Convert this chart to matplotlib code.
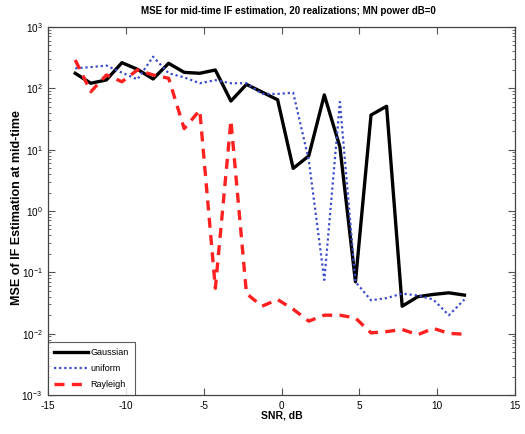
import numpy as np
import matplotlib
matplotlib.use("Agg")
import matplotlib.pyplot as plt
from matplotlib.ticker import FixedLocator, NullFormatter, LogFormatterSciNotation

plt.rcParams['font.family'] = ['Liberation Sans Narrow', 'Liberation Sans', 'DejaVu Sans']
plt.rcParams['axes.unicode_minus'] = False

snr = [-13.25, -12.25, -11.25, -10.25, -9.25, -8.25, -7.25, -6.25, -5.25, -4.25,
       -3.25, -2.25, -1.25, -0.25, 0.75, 1.75, 2.75, 3.75, 4.75, 5.75,
       6.75, 7.75, 8.75, 9.75, 10.75, 11.75]

gaussian = [176, 121, 137, 262, 204, 142, 256, 182, 176, 199,
            62, 116, 87, 65, 4.95, 7.9, 78, 11.1, 0.070, 36.7,
            51, 0.028, 0.040, 0.0436, 0.0463, 0.0425]

uniform = [212, 222, 235, 180, 140, 328, 176, 151, 121, 136,
           121, 121, 81, 81, 85, 6.8, 0.075, 60, 0.070, 0.035,
           0.038, 0.045, 0.042, 0.036, 0.020, 0.036]

rayleigh = [290, 88, 165, 128, 200, 165, 146, 22, 44, 0.055,
            30, 0.045, 0.028, 0.036, 0.025, 0.016, 0.020, 0.020, 0.018, 0.0103,
            0.0108, 0.0117, 0.0096, 0.0122, 0.0101, 0.0098]

title = "MSE for mid-time IF estimation, 20 realizations; MN power dB=0"
xlabel = "SNR, dB"
ylabel = "MSE of IF Estimation at mid-time"
labels = ["Gaussian", "uniform", "Rayleigh"]
xticks = [-15, -10, -5, 0, 5, 10, 15]
yticks = [1e-3, 1e-2, 1e-1, 1e0, 1e1, 1e2, 1e3]

fig = plt.figure(figsize=(5.25, 4.34), dpi=100)
ax = fig.add_axes([0.0914, 0.0899, 0.8896, 0.8479])

ax.plot(snr, gaussian, color='black', lw=2.4, ls='-', label=labels[0])
ax.plot(snr, uniform, color='#3a4ccc', lw=1.6, ls=(0, (1, 1.3)), label=labels[1])
ax.plot(snr, rayleigh, color='#ff2020', lw=2.4, ls=(0, (3, 2.2)), label=labels[2])

ax.set_yscale('log')
ax.set_ylim(1e-3, 1e3)
ax.set_xlim(-15, 15)
ax.xaxis.set_major_locator(FixedLocator(xticks))
ax.yaxis.set_major_locator(FixedLocator(yticks))
ax.yaxis.set_major_formatter(LogFormatterSciNotation())
minor = [m * d for d in yticks[:-1] for m in range(2, 10)]
ax.yaxis.set_minor_locator(FixedLocator(minor))
ax.yaxis.set_minor_formatter(NullFormatter())
ax.tick_params(which='both', direction='in', top=True, right=True, labelsize=7.2, color='#555555')
ax.tick_params(which='major', length=5, width=0.8)
ax.tick_params(which='minor', length=2.5, width=0.6)
ax.tick_params(axis='x', pad=4)
ax.tick_params(axis='y', pad=4)
for s in ax.spines.values():
    s.set_color('#444444')
    s.set_linewidth(0.9)

ax.set_title(title, fontsize=7.0, fontweight='bold', pad=9, x=0.515)
ax.set_xlabel(xlabel, fontsize=7.5, fontweight='bold', labelpad=0)
ax.set_ylabel(ylabel, fontsize=9.0, fontweight='bold')
ax.yaxis.set_label_coords(-0.053, 0.51)

leg = ax.legend(loc='lower left', fontsize=6.5, frameon=True, fancybox=False,
                edgecolor='#333333', handlelength=3.7, handletextpad=0.3,
                borderaxespad=0.0, borderpad=0.7, labelspacing=0.75)
leg.get_frame().set_linewidth(0.8)

fig.savefig("out.png", dpi=100)
